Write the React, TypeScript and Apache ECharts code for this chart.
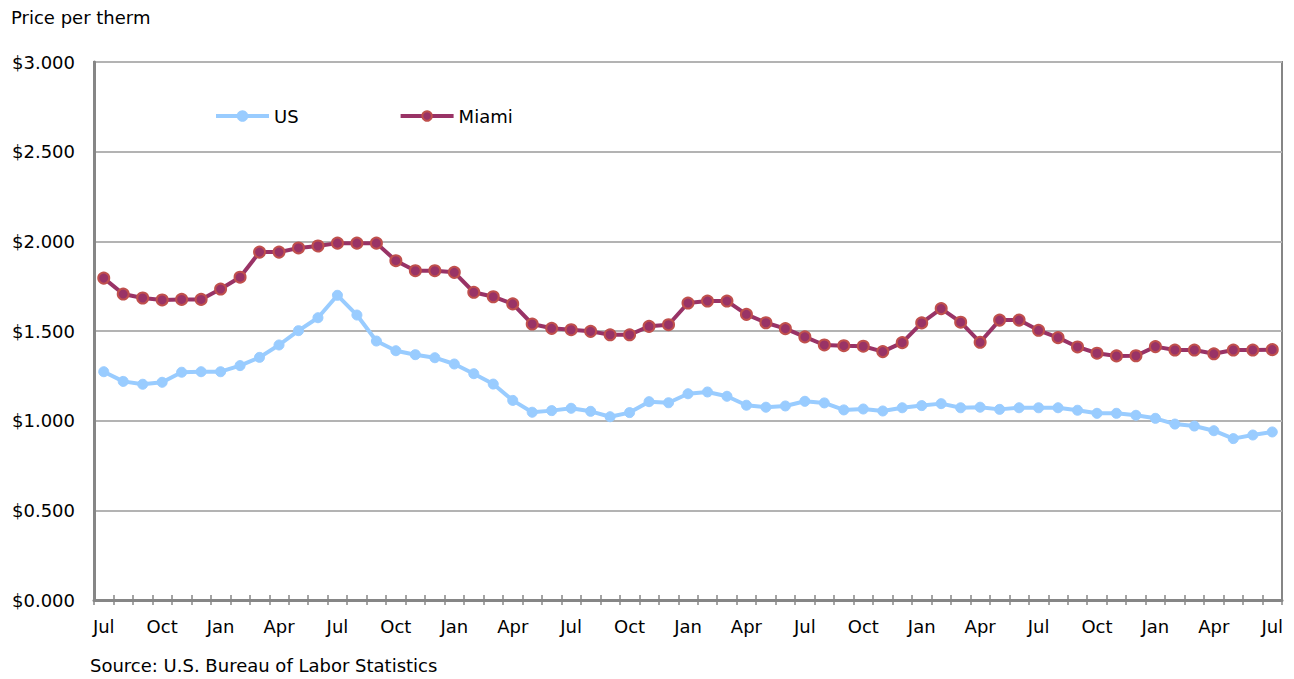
import React, { useEffect, useRef } from "react";
import * as echarts from "echarts";

const months = ["Jul", "Aug", "Sep", "Oct", "Nov", "Dec", "Jan", "Feb", "Mar", "Apr", "May", "Jun"];
const categories: string[] = [];
for (let i = 0; i < 61; i++) categories.push(months[i % 12] + "-" + i);

const usValues = [
  1.273, 1.219, 1.203, 1.214, 1.27, 1.273, 1.273, 1.307, 1.353, 1.422, 1.502, 1.574, 1.699, 1.589, 1.444,
  1.39, 1.368, 1.351, 1.316, 1.262, 1.204, 1.113, 1.047, 1.056, 1.069, 1.052, 1.022, 1.045, 1.106, 1.1,
  1.15, 1.16, 1.136, 1.086, 1.075, 1.082, 1.108, 1.099, 1.06, 1.065, 1.054, 1.072, 1.084, 1.095, 1.072,
  1.075, 1.063, 1.072, 1.072, 1.072, 1.058, 1.041, 1.041, 1.03, 1.013, 0.981, 0.97, 0.944, 0.9, 0.92, 0.937,
];

const miamiValues = [
  1.795, 1.706, 1.684, 1.673, 1.676, 1.676, 1.734, 1.8, 1.94, 1.94, 1.963, 1.974, 1.99, 1.99, 1.99,
  1.892, 1.836, 1.836, 1.827, 1.716, 1.691, 1.651, 1.539, 1.515, 1.507, 1.498, 1.479, 1.479, 1.526, 1.535,
  1.656, 1.667, 1.667, 1.593, 1.546, 1.513, 1.467, 1.422, 1.418, 1.415, 1.385, 1.435, 1.545, 1.625, 1.549,
  1.437, 1.561, 1.561, 1.504, 1.463, 1.411, 1.376, 1.361, 1.362, 1.413, 1.394, 1.394, 1.373, 1.394, 1.394, 1.396,
];

const FONT = "DejaVu Sans, Liberation Sans, sans-serif";

export default function App() {
  const ref = useRef<HTMLDivElement>(null);
  useEffect(() => {
    if (!ref.current) return;
    const chart = echarts.init(ref.current, undefined, { renderer: "svg" });
    chart.setOption({
      animation: false,
      backgroundColor: "#ffffff",
      textStyle: { fontFamily: FONT },
      title: {
        text: "Price per therm",
        left: 11,
        top: 8,
        padding: 0,
        textStyle: { fontFamily: FONT, fontSize: 18, fontWeight: "normal", color: "#000" },
      },
      graphic: [
        {
          type: "text",
          left: 90,
          top: 656,
          style: { text: "Source: U.S. Bureau of Labor Statistics", fontFamily: FONT, fontSize: 18, fill: "#000" },
        },
      ],
      legend: {
        left: 214,
        top: 107,
        padding: 0,
        itemWidth: 53,
        itemHeight: 12,
        itemGap: 100,
        lineStyle: { width: 4 },
        textStyle: { fontFamily: FONT, fontSize: 18, color: "#000" },
        data: ["US", "Miami"],
      },
      grid: {
        left: 94,
        right: 12,
        top: 62,
        bottom: 79,
        show: true,
        borderColor: "#868686",
        borderWidth: 2,
      },
      xAxis: [
        {
          type: "category",
          data: categories,
          boundaryGap: true,
          axisLine: { lineStyle: { color: "#868686", width: 3 } },
          axisTick: { show: true, interval: 0, length: 5, lineStyle: { color: "#868686", width: 1.5 } },
          axisLabel: {
            interval: 2,
            margin: 17,
            color: "#000",
            fontSize: 18,
            fontFamily: FONT,
            formatter: (v: string) => v.split("-")[0],
          },
        },
        {
          type: "category",
          data: categories,
          position: "bottom",
          boundaryGap: true,
          axisLine: { show: false },
          axisTick: { show: true, inside: true, interval: 0, length: 5, lineStyle: { color: "#868686", width: 1.5 } },
          axisLabel: { show: false },
        },
      ],
      yAxis: {
        type: "value",
        min: 0,
        max: 3,
        interval: 0.5,
        axisLine: { show: true, lineStyle: { color: "#868686", width: 3 } },
        axisTick: { show: false },
        splitLine: { lineStyle: { color: "#b3b3b3", width: 2 } },
        axisLabel: {
          color: "#000",
          fontSize: 18,
          fontFamily: FONT,
          margin: 19,
          formatter: (v: number) => "$" + v.toFixed(3),
        },
      },
      series: [
        {
          name: "US",
          type: "line",
          data: usValues,
          symbol: "circle",
          symbolSize: 10,
          lineStyle: { color: "#99ccff", width: 4 },
          itemStyle: { color: "#99ccff", borderColor: "#99ccff", borderWidth: 1 },
          z: 2,
        },
        {
          name: "Miami",
          type: "line",
          data: miamiValues,
          symbol: "circle",
          symbolSize: 11,
          lineStyle: { color: "#993366", width: 4 },
          itemStyle: { color: "#993366", borderColor: "#c0504d", borderWidth: 2 },
          z: 3,
        },
      ],
    });
    return () => chart.dispose();
  }, []);
  return (
    <div
      ref={ref}
      style={{ position: "fixed", left: 0, top: 0, width: 1294, height: 679, background: "#fff" }}
    />
  );
}
